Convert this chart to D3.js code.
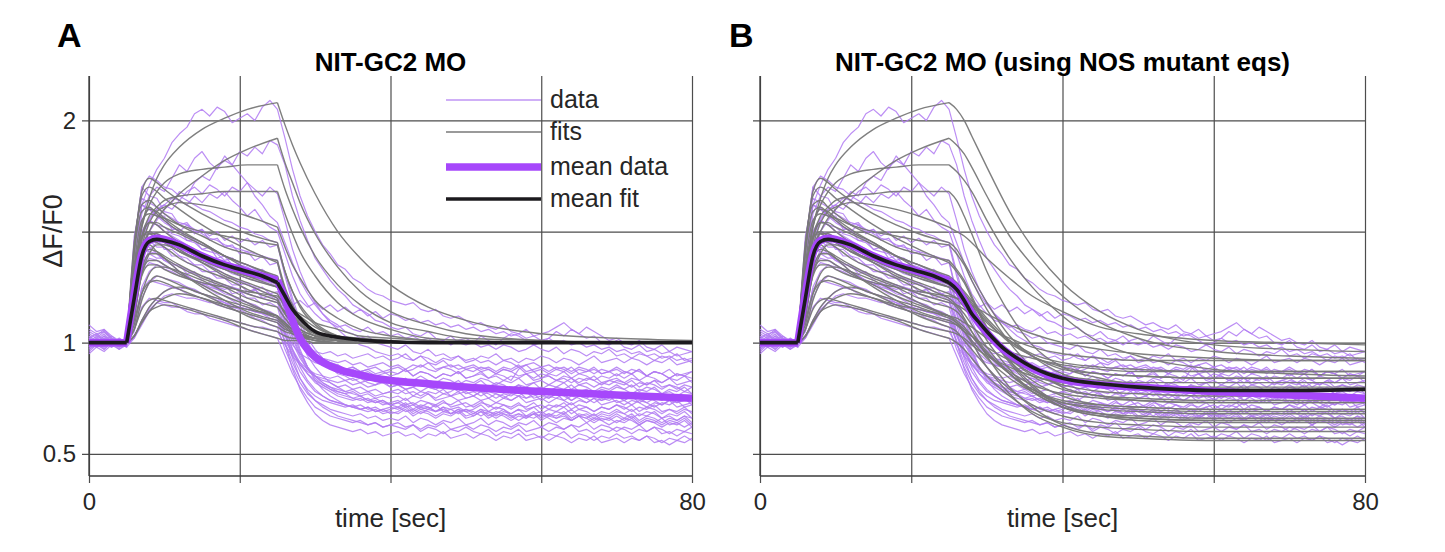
<!DOCTYPE html>
<html><head><meta charset="utf-8">
<script src="https://cdn.jsdelivr.net/npm/d3@7"></script>
<style>body{margin:0;background:#fff}</style>
</head><body><svg id="chart" width="1445" height="552"></svg>
<script>
// ---------------- DATA ----------------
const titles = ["NIT-GC2 MO", "NIT-GC2 MO (using NOS mutant eqs)"];
const panelLetters = ["A", "B"];
const xTickValues = [0, 20, 40, 60, 80];
const xTickLabels = ["0", "", "", "", "80"];
const yTickValues = [0.5, 1, 1.5, 2];
const yTickLabels = ["0.5", "1", "", "2"];
const legendLabels = ["data", "fits", "mean data", "mean fit"];

// individual recordings, sampled every 1 s (t = 0..80)
const dataTraces = [
[1.04,1.02,1.05,1.01,0.99,1.00,1.35,1.62,1.71,1.78,1.83,1.90,1.94,1.97,2.03,2.05,2.02,2.06,2.04,1.99,2.01,2.03,2.00,2.06,2.09,2.05,1.92,1.78,1.66,1.57,1.50,1.44,1.40,1.35,1.33,1.29,1.27,1.24,1.22,1.21,1.19,1.18,1.17,1.18,1.15,1.14,1.15,1.12,1.11,1.12,1.10,1.08,1.09,1.07,1.06,1.08,1.05,1.04,1.06,1.03,1.04,1.05,1.07,1.09,1.06,1.04,1.02,1.03,1.00,0.99,1.01,0.98,0.97,0.99,0.96,0.97,0.95,0.96,0.94,0.95,0.96],
[0.98,1.01,0.99,1.02,1.00,0.99,1.20,1.42,1.50,1.55,1.60,1.63,1.68,1.66,1.72,1.75,1.73,1.79,1.82,1.80,1.86,1.84,1.88,1.85,1.91,1.89,1.80,1.66,1.55,1.46,1.38,1.33,1.28,1.24,1.21,1.17,1.15,1.13,1.10,1.09,1.07,1.06,1.07,1.04,1.03,1.05,1.02,1.01,1.03,1.00,0.99,1.00,0.98,0.99,0.97,0.99,0.98,0.96,0.97,0.99,0.97,0.96,0.98,0.95,0.97,0.96,0.94,0.96,0.95,0.97,0.94,0.95,0.93,0.95,0.94,0.92,0.94,0.93,0.95,0.92,0.93],
[1.02,1.00,1.03,0.99,1.01,1.00,1.30,1.58,1.66,1.70,1.68,1.74,1.80,1.77,1.83,1.86,1.81,1.78,1.84,1.80,1.76,1.72,1.66,1.62,1.57,1.54,1.45,1.36,1.28,1.22,1.17,1.13,1.10,1.08,1.05,1.04,1.02,1.03,1.00,0.99,0.98,0.97,0.99,0.96,0.95,0.97,0.94,0.95,0.93,0.94,0.92,0.93,0.91,0.92,0.90,0.92,0.91,0.89,0.90,0.91,0.89,0.90,0.88,0.89,0.87,0.89,0.88,0.86,0.88,0.87,0.89,0.87,0.86,0.88,0.85,0.87,0.86,0.84,0.86,0.85,0.84],
[1.00,0.98,1.01,1.00,0.97,1.00,1.25,1.50,1.56,1.60,1.62,1.65,1.64,1.68,1.70,1.67,1.71,1.69,1.66,1.70,1.68,1.72,1.69,1.66,1.70,1.67,1.55,1.42,1.32,1.24,1.18,1.13,1.09,1.06,1.03,1.01,0.99,0.98,0.96,0.95,0.94,0.95,0.93,0.92,0.94,0.91,0.90,0.92,0.89,0.90,0.88,0.89,0.87,0.88,0.86,0.88,0.87,0.85,0.86,0.84,0.86,0.85,0.83,0.85,0.84,0.82,0.84,0.83,0.81,0.83,0.82,0.81,0.83,0.80,0.82,0.81,0.79,0.81,0.80,0.78,0.80],
[1.05,1.03,1.06,1.02,1.00,0.99,1.38,1.62,1.60,1.57,1.55,1.52,1.50,1.53,1.49,1.51,1.48,1.50,1.46,1.48,1.45,1.47,1.44,1.46,1.43,1.44,1.30,1.18,1.08,1.00,0.95,0.91,0.89,0.86,0.85,0.83,0.84,0.82,0.81,0.83,0.80,0.81,0.79,0.80,0.78,0.80,0.79,0.77,0.78,0.80,0.77,0.78,0.76,0.78,0.77,0.75,0.77,0.76,0.78,0.75,0.76,0.75,0.77,0.74,0.76,0.75,0.73,0.75,0.74,0.76,0.73,0.74,0.72,0.74,0.73,0.71,0.73,0.72,0.74,0.71,0.72],
[0.99,1.02,1.00,0.98,1.01,1.00,1.45,1.70,1.66,1.65,1.59,1.58,1.53,1.54,1.50,1.51,1.46,1.47,1.43,1.44,1.40,1.41,1.37,1.39,1.35,1.36,1.22,1.10,1.01,0.94,0.89,0.85,0.82,0.80,0.78,0.77,0.76,0.74,0.75,0.73,0.72,0.73,0.71,0.72,0.70,0.71,0.69,0.70,0.68,0.70,0.69,0.67,0.69,0.68,0.66,0.68,0.67,0.65,0.67,0.66,0.68,0.66,0.64,0.66,0.65,0.67,0.64,0.66,0.65,0.63,0.65,0.64,0.66,0.63,0.65,0.64,0.62,0.64,0.63,0.65,0.62],
[1.01,0.99,1.00,1.02,0.99,1.00,1.30,1.55,1.61,1.57,1.57,1.51,1.51,1.46,1.46,1.42,1.43,1.38,1.39,1.35,1.35,1.32,1.32,1.28,1.29,1.26,1.14,1.03,0.95,0.89,0.85,0.82,0.80,0.78,0.77,0.75,0.76,0.74,0.73,0.74,0.72,0.71,0.73,0.70,0.72,0.71,0.69,0.71,0.70,0.68,0.70,0.69,0.67,0.69,0.68,0.70,0.67,0.68,0.66,0.68,0.67,0.68,0.66,0.67,0.65,0.67,0.66,0.68,0.65,0.66,0.64,0.66,0.65,0.63,0.65,0.64,0.66,0.63,0.64,0.62,0.64],
[0.97,1.00,0.98,1.01,1.00,0.99,1.22,1.48,1.55,1.53,1.52,1.49,1.48,1.46,1.45,1.42,1.41,1.40,1.37,1.38,1.35,1.34,1.32,1.33,1.30,1.29,1.19,1.10,1.03,0.98,0.95,0.93,0.91,0.90,0.88,0.89,0.87,0.88,0.86,0.87,0.85,0.86,0.88,0.85,0.87,0.86,0.84,0.86,0.85,0.87,0.84,0.85,0.86,0.84,0.85,0.83,0.85,0.84,0.86,0.83,0.84,0.85,0.83,0.84,0.82,0.84,0.83,0.85,0.82,0.83,0.84,0.82,0.84,0.83,0.81,0.83,0.82,0.84,0.81,0.82,0.83],
[1.03,1.01,1.04,1.00,1.02,1.00,1.20,1.40,1.46,1.43,1.43,1.39,1.39,1.36,1.35,1.32,1.32,1.29,1.29,1.26,1.26,1.23,1.24,1.20,1.21,1.19,1.05,0.93,0.84,0.78,0.74,0.71,0.69,0.67,0.66,0.65,0.64,0.63,0.64,0.62,0.63,0.62,0.61,0.63,0.60,0.62,0.61,0.59,0.61,0.60,0.62,0.60,0.59,0.61,0.58,0.60,0.59,0.61,0.58,0.59,0.57,0.59,0.58,0.60,0.57,0.59,0.58,0.56,0.58,0.57,0.59,0.57,0.58,0.56,0.58,0.57,0.55,0.57,0.56,0.58,0.56],
[0.96,0.99,0.97,1.00,0.98,1.00,1.32,1.50,1.47,1.47,1.42,1.42,1.39,1.38,1.35,1.35,1.32,1.32,1.29,1.29,1.26,1.27,1.24,1.25,1.22,1.23,1.10,1.00,0.93,0.88,0.85,0.83,0.82,0.80,0.81,0.79,0.80,0.78,0.79,0.77,0.78,0.79,0.77,0.78,0.76,0.78,0.77,0.79,0.76,0.77,0.78,0.76,0.78,0.77,0.75,0.77,0.76,0.78,0.75,0.76,0.77,0.75,0.77,0.76,0.74,0.76,0.75,0.77,0.74,0.75,0.76,0.74,0.76,0.75,0.73,0.75,0.74,0.76,0.73,0.74,0.75],
[1.00,1.02,0.99,1.01,1.00,0.98,1.15,1.35,1.40,1.38,1.38,1.35,1.35,1.31,1.32,1.28,1.29,1.25,1.26,1.22,1.23,1.20,1.20,1.17,1.18,1.16,1.04,0.94,0.87,0.82,0.78,0.76,0.74,0.73,0.72,0.71,0.72,0.70,0.71,0.69,0.70,0.71,0.69,0.70,0.68,0.70,0.69,0.71,0.68,0.69,0.70,0.68,0.70,0.69,0.67,0.69,0.68,0.70,0.67,0.68,0.69,0.67,0.69,0.68,0.70,0.67,0.68,0.66,0.68,0.67,0.69,0.68,0.66,0.68,0.67,0.69,0.66,0.67,0.65,0.67,0.66],
[1.02,1.00,1.01,0.99,1.00,1.01,1.08,1.25,1.32,1.35,1.34,1.33,1.31,1.30,1.28,1.27,1.26,1.24,1.23,1.21,1.20,1.18,1.17,1.15,1.13,1.12,1.05,0.99,0.95,0.93,0.91,0.90,0.89,0.90,0.88,0.89,0.87,0.88,0.89,0.87,0.88,0.89,0.87,0.88,0.90,0.88,0.87,0.89,0.88,0.86,0.88,0.87,0.89,0.88,0.86,0.88,0.87,0.89,0.86,0.87,0.88,0.86,0.88,0.87,0.89,0.86,0.87,0.88,0.86,0.87,0.85,0.87,0.86,0.88,0.85,0.87,0.86,0.84,0.86,0.85,0.87],
[0.98,1.00,0.97,1.00,0.99,1.00,1.05,1.20,1.27,1.30,1.29,1.28,1.27,1.25,1.24,1.22,1.21,1.19,1.18,1.16,1.15,1.13,1.11,1.10,1.08,1.07,0.97,0.89,0.82,0.77,0.74,0.72,0.70,0.69,0.68,0.67,0.68,0.66,0.67,0.65,0.66,0.65,0.67,0.64,0.66,0.65,0.63,0.65,0.64,0.66,0.63,0.64,0.66,0.63,0.65,0.64,0.62,0.64,0.63,0.65,0.62,0.64,0.63,0.61,0.63,0.62,0.64,0.61,0.63,0.62,0.60,0.62,0.61,0.63,0.60,0.62,0.61,0.59,0.61,0.60,0.62],
[1.01,0.99,1.02,1.00,1.01,0.99,1.03,1.10,1.16,1.20,1.23,1.25,1.24,1.25,1.23,1.22,1.21,1.20,1.18,1.17,1.16,1.15,1.14,1.13,1.12,1.11,1.03,0.96,0.90,0.86,0.83,0.81,0.79,0.78,0.77,0.78,0.76,0.77,0.75,0.76,0.75,0.76,0.74,0.76,0.75,0.77,0.74,0.75,0.76,0.74,0.75,0.76,0.74,0.75,0.73,0.75,0.74,0.76,0.73,0.74,0.75,0.73,0.75,0.74,0.72,0.74,0.73,0.75,0.72,0.73,0.74,0.72,0.74,0.73,0.71,0.73,0.72,0.74,0.71,0.72,0.73],
[1.00,0.98,1.00,1.01,0.99,1.00,1.06,1.16,1.20,1.19,1.18,1.18,1.16,1.15,1.15,1.13,1.12,1.12,1.10,1.10,1.09,1.08,1.07,1.07,1.06,1.05,0.99,0.94,0.90,0.87,0.85,0.84,0.83,0.82,0.83,0.81,0.82,0.80,0.81,0.82,0.80,0.81,0.79,0.80,0.82,0.80,0.79,0.81,0.80,0.78,0.80,0.81,0.79,0.80,0.78,0.80,0.79,0.81,0.78,0.79,0.80,0.78,0.80,0.79,0.81,0.78,0.79,0.77,0.79,0.78,0.80,0.79,0.77,0.79,0.78,0.80,0.77,0.78,0.76,0.78,0.77],
[1.08,1.05,1.06,1.03,1.01,1.00,1.25,1.42,1.41,1.40,1.37,1.36,1.34,1.33,1.31,1.30,1.29,1.27,1.26,1.25,1.24,1.22,1.21,1.20,1.19,1.18,1.10,1.04,1.00,0.98,0.96,0.95,0.96,0.94,0.95,0.93,0.94,0.95,0.93,0.94,0.92,0.93,0.95,0.92,0.94,0.93,0.91,0.93,0.92,0.94,0.91,0.92,0.94,0.93,0.95,0.92,0.93,0.91,0.93,0.92,0.94,0.93,0.91,0.93,0.92,0.90,0.92,0.94,0.91,0.92,0.93,0.91,0.93,0.92,0.90,0.92,0.91,0.93,0.90,0.91,0.92],
[0.99,1.01,1.00,0.98,1.00,0.99,1.18,1.44,1.50,1.49,1.47,1.44,1.42,1.40,1.38,1.36,1.35,1.33,1.31,1.29,1.28,1.26,1.25,1.23,1.22,1.20,1.08,0.97,0.89,0.83,0.79,0.76,0.74,0.73,0.72,0.71,0.70,0.71,0.69,0.70,0.68,0.69,0.71,0.68,0.70,0.69,0.67,0.69,0.68,0.70,0.67,0.68,0.70,0.67,0.69,0.68,0.66,0.68,0.67,0.69,0.66,0.68,0.67,0.69,0.66,0.68,0.67,0.65,0.67,0.66,0.68,0.66,0.68,0.65,0.67,0.66,0.64,0.66,0.65,0.67,0.64],
[1.02,1.04,1.01,1.03,1.00,1.01,1.42,1.62,1.60,1.57,1.54,1.52,1.50,1.48,1.46,1.44,1.43,1.41,1.39,1.38,1.36,1.35,1.33,1.32,1.31,1.30,1.17,1.05,0.96,0.89,0.84,0.81,0.79,0.77,0.76,0.75,0.74,0.75,0.73,0.74,0.72,0.73,0.75,0.72,0.74,0.73,0.71,0.73,0.72,0.74,0.71,0.72,0.74,0.71,0.73,0.72,0.70,0.72,0.71,0.73,0.70,0.72,0.71,0.73,0.70,0.72,0.71,0.69,0.71,0.70,0.72,0.70,0.72,0.69,0.71,0.70,0.68,0.70,0.69,0.71,0.68],
[0.95,0.98,0.96,0.99,0.97,0.99,1.12,1.33,1.38,1.37,1.35,1.33,1.32,1.30,1.28,1.27,1.25,1.24,1.22,1.21,1.19,1.18,1.16,1.15,1.14,1.12,1.00,0.88,0.79,0.73,0.68,0.65,0.63,0.62,0.61,0.60,0.61,0.59,0.60,0.58,0.59,0.60,0.58,0.59,0.57,0.59,0.58,0.60,0.57,0.58,0.59,0.57,0.59,0.58,0.56,0.58,0.57,0.59,0.56,0.57,0.58,0.56,0.58,0.57,0.55,0.57,0.56,0.58,0.55,0.56,0.57,0.55,0.57,0.56,0.58,0.55,0.56,0.54,0.56,0.55,0.57],
[1.01,1.00,1.02,0.99,1.01,1.00,1.10,1.24,1.28,1.27,1.26,1.25,1.24,1.22,1.21,1.20,1.19,1.17,1.16,1.15,1.14,1.13,1.12,1.11,1.10,1.09,1.01,0.95,0.91,0.88,0.86,0.85,0.84,0.85,0.83,0.84,0.82,0.83,0.84,0.82,0.83,0.84,0.82,0.83,0.85,0.83,0.82,0.84,0.83,0.81,0.83,0.82,0.84,0.83,0.81,0.83,0.82,0.84,0.81,0.82,0.83,0.81,0.83,0.82,0.84,0.81,0.82,0.80,0.82,0.81,0.83,0.82,0.80,0.82,0.81,0.83,0.80,0.81,0.79,0.81,0.80],
[1.00,1.03,1.01,1.00,0.99,1.00,1.45,1.70,1.75,1.73,1.70,1.69,1.66,1.64,1.62,1.60,1.59,1.57,1.55,1.54,1.52,1.51,1.49,1.48,1.46,1.45,1.32,1.20,1.10,1.02,0.97,0.93,0.90,0.88,0.86,0.85,0.84,0.83,0.84,0.82,0.83,0.82,0.84,0.81,0.83,0.82,0.80,0.82,0.81,0.83,0.80,0.81,0.83,0.80,0.82,0.81,0.79,0.81,0.80,0.82,0.79,0.81,0.80,0.82,0.79,0.81,0.80,0.78,0.80,0.79,0.81,0.79,0.81,0.78,0.80,0.79,0.77,0.79,0.78,0.80,0.77],
[1.00,0.99,1.01,1.00,1.02,1.00,1.20,1.45,1.55,1.60,1.62,1.60,1.64,1.62,1.66,1.63,1.67,1.65,1.68,1.64,1.61,1.57,1.60,1.55,1.52,1.50,1.40,1.30,1.22,1.17,1.13,1.10,1.09,1.07,1.08,1.06,1.05,1.07,1.04,1.05,1.03,1.04,1.02,1.03,1.01,1.02,1.00,1.01,0.99,1.01,1.02,1.00,1.03,1.01,0.99,1.02,1.04,1.03,1.01,0.99,1.00,1.02,1.05,1.03,1.06,1.04,1.07,1.05,1.03,1.01,1.02,1.00,0.99,1.01,0.98,0.97,0.99,0.96,0.98,0.97,0.96],
[0.97,0.99,0.98,1.00,0.99,1.00,1.28,1.45,1.43,1.40,1.37,1.35,1.32,1.30,1.28,1.26,1.24,1.22,1.21,1.19,1.17,1.16,1.14,1.13,1.11,1.10,1.00,0.91,0.84,0.79,0.76,0.74,0.73,0.72,0.71,0.72,0.70,0.71,0.69,0.70,0.71,0.70,0.72,0.69,0.71,0.70,0.72,0.69,0.70,0.71,0.69,0.70,0.72,0.69,0.71,0.70,0.68,0.70,0.69,0.71,0.68,0.70,0.69,0.71,0.68,0.70,0.69,0.67,0.69,0.68,0.70,0.68,0.70,0.67,0.69,0.68,0.66,0.68,0.67,0.69,0.66],
[1.00,1.01,0.99,1.00,0.98,1.00,1.02,1.10,1.15,1.18,1.17,1.16,1.16,1.14,1.13,1.13,1.11,1.10,1.09,1.08,1.07,1.06,1.05,1.04,1.03,1.02,0.94,0.86,0.80,0.75,0.71,0.69,0.67,0.66,0.65,0.64,0.65,0.63,0.64,0.62,0.63,0.64,0.62,0.63,0.61,0.63,0.62,0.64,0.61,0.62,0.63,0.61,0.63,0.62,0.60,0.62,0.61,0.63,0.60,0.61,0.62,0.60,0.62,0.61,0.63,0.60,0.61,0.59,0.61,0.60,0.62,0.61,0.59,0.61,0.60,0.62,0.59,0.60,0.58,0.60,0.59],
[1.03,1.00,1.02,1.01,0.99,1.00,1.25,1.50,1.55,1.53,1.50,1.48,1.46,1.44,1.42,1.40,1.39,1.37,1.35,1.34,1.32,1.31,1.29,1.28,1.27,1.25,1.13,1.02,0.94,0.88,0.85,0.82,0.80,0.79,0.78,0.79,0.77,0.78,0.76,0.77,0.78,0.77,0.79,0.76,0.78,0.77,0.75,0.77,0.76,0.78,0.75,0.76,0.78,0.75,0.77,0.76,0.74,0.76,0.75,0.77,0.74,0.76,0.75,0.77,0.74,0.76,0.75,0.73,0.75,0.74,0.76,0.74,0.76,0.73,0.75,0.74,0.72,0.74,0.73,0.75,0.72],
[1.02,1.00,1.03,1.01,1.00,1.00,1.15,1.32,1.36,1.35,1.33,1.32,1.30,1.29,1.28,1.26,1.27,1.25,1.24,1.25,1.23,1.22,1.24,1.21,1.22,1.20,1.18,1.17,1.19,1.16,1.18,1.15,1.17,1.14,1.16,1.13,1.15,1.12,1.14,1.11,1.13,1.12,1.10,1.11,1.09,1.10,1.08,1.09,1.07,1.08,1.06,1.07,1.05,1.06,1.04,1.05,1.03,1.04,1.02,1.03,1.01,1.02,1.00,1.01,0.99,1.00,0.98,0.99,0.97,0.98,0.96,0.97,0.95,0.96,0.94,0.95,0.93,0.94,0.92,0.93,0.91],
[0.99,1.01,1.00,1.02,1.00,0.99,1.12,1.33,1.42,1.45,1.44,1.43,1.41,1.40,1.38,1.37,1.36,1.34,1.33,1.31,1.30,1.29,1.28,1.27,1.26,1.25,1.15,1.07,1.01,0.97,0.95,0.93,0.92,0.91,0.92,0.90,0.91,0.89,0.90,0.91,0.89,0.90,0.88,0.90,0.89,0.91,0.88,0.89,0.90,0.88,0.89,0.90,0.88,0.89,0.87,0.89,0.88,0.90,0.87,0.88,0.89,0.87,0.89,0.88,0.86,0.88,0.87,0.89,0.86,0.87,0.88,0.86,0.88,0.87,0.85,0.87,0.86,0.88,0.85,0.86,0.87],
[1.06,1.04,1.05,1.02,1.01,1.00,1.48,1.65,1.63,1.61,1.58,1.56,1.54,1.53,1.51,1.49,1.47,1.46,1.44,1.43,1.42,1.41,1.40,1.39,1.38,1.37,1.22,1.08,0.97,0.89,0.83,0.79,0.76,0.74,0.72,0.71,0.70,0.69,0.70,0.68,0.69,0.68,0.70,0.67,0.69,0.68,0.66,0.68,0.67,0.69,0.66,0.67,0.69,0.66,0.68,0.67,0.65,0.67,0.66,0.68,0.65,0.67,0.66,0.68,0.65,0.67,0.66,0.64,0.66,0.65,0.67,0.65,0.67,0.64,0.66,0.65,0.63,0.65,0.64,0.66,0.63],
[0.98,1.00,0.99,1.01,1.00,0.98,1.02,1.08,1.14,1.18,1.21,1.22,1.21,1.20,1.20,1.19,1.18,1.18,1.17,1.16,1.16,1.15,1.14,1.14,1.13,1.12,1.04,0.97,0.91,0.86,0.82,0.80,0.78,0.76,0.75,0.74,0.75,0.73,0.74,0.72,0.73,0.74,0.72,0.73,0.71,0.73,0.72,0.74,0.71,0.72,0.73,0.71,0.73,0.72,0.70,0.72,0.71,0.73,0.70,0.71,0.72,0.70,0.72,0.71,0.73,0.70,0.71,0.69,0.71,0.70,0.72,0.71,0.69,0.71,0.70,0.72,0.69,0.70,0.68,0.70,0.69],
[1.01,0.98,1.00,0.99,1.01,1.00,1.35,1.50,1.49,1.47,1.46,1.44,1.43,1.41,1.40,1.39,1.38,1.36,1.35,1.34,1.33,1.32,1.31,1.30,1.29,1.28,1.17,1.07,1.00,0.95,0.92,0.90,0.89,0.88,0.87,0.88,0.86,0.87,0.85,0.86,0.87,0.86,0.88,0.85,0.87,0.86,0.84,0.86,0.85,0.87,0.84,0.85,0.87,0.84,0.86,0.85,0.83,0.88,0.90,0.87,0.84,0.86,0.85,0.87,0.84,0.86,0.85,0.83,0.85,0.84,0.86,0.84,0.86,0.83,0.85,0.84,0.82,0.84,0.83,0.85,0.82]
];

// model fits: shared stimulus-on phase, then panel-specific off phase
const fitRiseTimes = [0, 5, 6, 7, 8, 9, 10, 12, 15, 18, 21, 25];
const fitRise = [
[1,1,1.30,1.52,1.65,1.74,1.80,1.88,1.96,2.01,2.05,2.08],
[1,1,1.22,1.40,1.50,1.56,1.60,1.67,1.75,1.82,1.87,1.92],
[1,1,1.30,1.52,1.62,1.68,1.72,1.76,1.78,1.79,1.80,1.80],
[1,1,1.28,1.48,1.57,1.61,1.64,1.66,1.67,1.68,1.68,1.68],
[1,1,1.35,1.55,1.58,1.57,1.56,1.53,1.50,1.48,1.46,1.44],
[1,1,1.42,1.66,1.70,1.68,1.65,1.60,1.53,1.47,1.42,1.36],
[1,1,1.30,1.53,1.60,1.59,1.56,1.51,1.45,1.39,1.33,1.26],
[1,1,1.25,1.46,1.54,1.54,1.52,1.49,1.44,1.39,1.35,1.29],
[1,1,1.20,1.39,1.46,1.45,1.43,1.38,1.33,1.29,1.24,1.19],
[1,1,1.30,1.47,1.50,1.48,1.46,1.41,1.36,1.31,1.27,1.22],
[1,1,1.15,1.33,1.40,1.40,1.38,1.34,1.29,1.25,1.20,1.16],
[1,1,1.08,1.22,1.31,1.34,1.34,1.32,1.28,1.23,1.18,1.12],
[1,1,1.06,1.19,1.27,1.30,1.29,1.26,1.22,1.17,1.12,1.07],
[1,1,1.03,1.10,1.16,1.20,1.23,1.25,1.22,1.19,1.16,1.11],
[1,1,1.06,1.15,1.19,1.20,1.19,1.17,1.14,1.11,1.08,1.05],
[1,1,1.22,1.38,1.42,1.41,1.39,1.35,1.30,1.26,1.22,1.18],
[1,1,1.18,1.41,1.49,1.49,1.47,1.42,1.36,1.30,1.26,1.20],
[1,1,1.40,1.59,1.61,1.58,1.55,1.50,1.45,1.39,1.35,1.30],
[1,1,1.12,1.31,1.37,1.37,1.35,1.31,1.26,1.21,1.17,1.12],
[1,1,1.10,1.22,1.27,1.28,1.27,1.24,1.20,1.16,1.13,1.09],
[1,1,1.42,1.68,1.74,1.72,1.69,1.64,1.58,1.53,1.49,1.45],
[1,1,1.20,1.43,1.54,1.59,1.61,1.63,1.62,1.60,1.57,1.52],
[1,1,1.28,1.43,1.44,1.41,1.38,1.32,1.25,1.19,1.14,1.10],
[1,1,1.03,1.09,1.14,1.16,1.17,1.16,1.13,1.10,1.06,1.02],
[1,1,1.24,1.47,1.54,1.53,1.50,1.45,1.39,1.34,1.30,1.25],
[1,1,1.15,1.30,1.35,1.35,1.33,1.30,1.27,1.25,1.23,1.21],
[1,1,1.12,1.31,1.40,1.44,1.44,1.41,1.37,1.33,1.29,1.25],
[1,1,1.45,1.62,1.64,1.61,1.58,1.53,1.48,1.43,1.40,1.37],
[1,1,1.03,1.09,1.14,1.18,1.20,1.22,1.20,1.17,1.15,1.12],
[1,1,1.33,1.48,1.49,1.47,1.45,1.41,1.37,1.33,1.30,1.28]
];
const fitDecayTimes = [26, 27, 28, 30, 33, 36, 40, 45, 50, 60, 70, 80];
const fitDecayA = [
[1.98,1.89,1.81,1.67,1.50,1.38,1.26,1.16,1.10,1.04,1.02,1.01],
[1.81,1.72,1.63,1.49,1.34,1.23,1.14,1.08,1.04,1.01,1.00,1.00],
[1.69,1.60,1.52,1.39,1.26,1.17,1.09,1.05,1.02,1.01,1.00,1.00],
[1.58,1.49,1.41,1.30,1.18,1.11,1.06,1.02,1.01,1.00,1.00,1.00],
[1.32,1.23,1.16,1.08,1.03,1.01,1.00,1.00,1.00,1.00,1.00,1.00],
[1.24,1.16,1.11,1.05,1.01,1.00,1.00,1.00,1.00,1.00,1.00,1.00],
[1.17,1.12,1.08,1.04,1.01,1.00,1.00,1.00,1.00,1.00,1.00,1.00],
[1.21,1.15,1.11,1.05,1.02,1.01,1.00,1.00,1.00,1.00,1.00,1.00],
[1.13,1.09,1.06,1.03,1.01,1.00,1.00,1.00,1.00,1.00,1.00,1.00],
[1.16,1.11,1.08,1.04,1.02,1.01,1.00,1.00,1.00,1.00,1.00,1.00],
[1.11,1.07,1.05,1.02,1.01,1.00,1.00,1.00,1.00,1.00,1.00,1.00],
[1.09,1.06,1.04,1.02,1.01,1.00,1.00,1.00,1.00,1.00,1.00,1.00],
[1.05,1.04,1.03,1.01,1.00,1.00,1.00,1.00,1.00,1.00,1.00,1.00],
[1.08,1.06,1.04,1.02,1.01,1.00,1.00,1.00,1.00,1.00,1.00,1.00],
[1.03,1.02,1.02,1.01,1.00,1.00,1.00,1.00,1.00,1.00,1.00,1.00],
[1.14,1.11,1.08,1.05,1.02,1.01,1.00,1.00,1.00,1.00,1.00,1.00],
[1.13,1.09,1.06,1.03,1.01,1.00,1.00,1.00,1.00,1.00,1.00,1.00],
[1.20,1.13,1.09,1.04,1.01,1.00,1.00,1.00,1.00,1.00,1.00,1.00],
[1.08,1.05,1.04,1.02,1.00,1.00,1.00,1.00,1.00,1.00,1.00,1.00],
[1.06,1.05,1.03,1.02,1.01,1.00,1.00,1.00,1.00,1.00,1.00,1.00],
[1.32,1.23,1.17,1.09,1.03,1.01,1.00,1.00,1.00,1.00,1.00,1.00],
[1.43,1.35,1.29,1.19,1.11,1.06,1.03,1.01,1.00,1.00,1.00,1.00],
[1.07,1.04,1.03,1.01,1.00,1.00,1.00,1.00,1.00,1.00,1.00,1.00],
[1.01,1.01,1.01,1.00,1.00,1.00,1.00,1.00,1.00,1.00,1.00,1.00],
[1.17,1.11,1.08,1.03,1.01,1.00,1.00,1.00,1.00,1.00,1.00,1.00],
[1.18,1.15,1.13,1.09,1.06,1.03,1.02,1.01,1.00,1.00,1.00,1.00],
[1.19,1.15,1.12,1.07,1.03,1.02,1.01,1.00,1.00,1.00,1.00,1.00],
[1.25,1.17,1.11,1.05,1.02,1.00,1.00,1.00,1.00,1.00,1.00,1.00],
[1.09,1.06,1.04,1.02,1.01,1.00,1.00,1.00,1.00,1.00,1.00,1.00],
[1.20,1.14,1.10,1.05,1.02,1.01,1.00,1.00,1.00,1.00,1.00,1.00]
];
const fitDecayB = [
[2.05,2.00,1.93,1.79,1.59,1.43,1.27,1.14,1.06,0.99,0.97,0.96],
[1.89,1.85,1.79,1.66,1.48,1.35,1.21,1.09,1.02,0.96,0.94,0.93],
[1.77,1.73,1.68,1.55,1.38,1.25,1.12,1.00,0.94,0.88,0.86,0.85],
[1.64,1.57,1.49,1.32,1.13,0.99,0.89,0.84,0.81,0.80,0.80,0.80],
[1.40,1.35,1.28,1.15,1.00,0.89,0.80,0.76,0.74,0.73,0.73,0.73],
[1.32,1.27,1.20,1.06,0.91,0.80,0.71,0.67,0.65,0.64,0.64,0.64],
[1.23,1.18,1.13,1.01,0.88,0.78,0.71,0.67,0.66,0.65,0.65,0.65],
[1.27,1.23,1.19,1.11,1.01,0.94,0.89,0.86,0.85,0.84,0.84,0.84],
[1.16,1.11,1.05,0.94,0.80,0.71,0.63,0.59,0.58,0.57,0.57,0.57],
[1.20,1.16,1.12,1.03,0.93,0.86,0.81,0.78,0.77,0.76,0.76,0.76],
[1.14,1.10,1.05,0.96,0.86,0.79,0.73,0.70,0.69,0.68,0.68,0.68],
[1.11,1.09,1.07,1.02,0.96,0.93,0.90,0.88,0.87,0.87,0.87,0.87],
[1.05,1.01,0.97,0.89,0.79,0.72,0.67,0.64,0.63,0.62,0.62,0.62],
[1.09,1.06,1.03,0.95,0.87,0.81,0.77,0.75,0.74,0.73,0.73,0.73],
[1.04,1.02,0.99,0.94,0.89,0.85,0.82,0.80,0.79,0.79,0.79,0.79],
[1.17,1.15,1.12,1.07,1.02,0.98,0.95,0.93,0.92,0.92,0.92,0.92],
[1.17,1.13,1.08,0.98,0.86,0.78,0.71,0.68,0.67,0.66,0.66,0.66],
[1.27,1.22,1.17,1.05,0.92,0.83,0.76,0.72,0.71,0.70,0.70,0.70],
[1.09,1.05,1.00,0.89,0.77,0.68,0.62,0.58,0.57,0.56,0.56,0.56],
[1.08,1.05,1.03,0.98,0.92,0.88,0.85,0.83,0.82,0.82,0.82,0.82],
[1.42,1.36,1.30,1.18,1.03,0.94,0.86,0.82,0.80,0.79,0.79,0.79],
[1.50,1.48,1.45,1.38,1.29,1.21,1.14,1.07,1.04,1.01,1.00,0.99],
[1.08,1.05,1.01,0.93,0.84,0.78,0.73,0.71,0.70,0.69,0.69,0.69],
[1.00,0.97,0.93,0.85,0.76,0.69,0.64,0.62,0.61,0.60,0.60,0.60],
[1.22,1.18,1.14,1.04,0.93,0.85,0.79,0.76,0.75,0.74,0.74,0.74],
[1.20,1.19,1.17,1.13,1.08,1.04,1.00,0.97,0.95,0.93,0.92,0.92],
[1.23,1.20,1.17,1.09,1.01,0.95,0.91,0.89,0.88,0.87,0.87,0.87],
[1.33,1.28,1.21,1.07,0.92,0.81,0.72,0.68,0.66,0.65,0.65,0.65],
[1.10,1.07,1.03,0.95,0.86,0.79,0.74,0.72,0.71,0.70,0.70,0.70],
[1.26,1.22,1.18,1.10,1.00,0.94,0.88,0.86,0.85,0.84,0.84,0.84]
];

// averages
const meanTimes = [0,5,6,7,8,9,10,12,15,18,20,23,25,26,27,28,29,30,32,34,36,38,40,45,50,60,70,80];
const meanDataA = [1,1,1.22,1.40,1.46,1.47,1.465,1.44,1.39,1.35,1.33,1.30,1.28,1.20,1.10,1.02,0.97,0.935,0.895,0.87,0.855,0.84,0.83,0.815,0.80,0.78,0.765,0.75];
const meanFitA  = [1,1,1.20,1.39,1.455,1.465,1.46,1.44,1.39,1.35,1.33,1.30,1.27,1.21,1.15,1.11,1.075,1.05,1.03,1.02,1.012,1.007,1.004,1.0,1.0,1.0,1.0,1.0];
const meanDataB = [1,1,1.22,1.40,1.46,1.47,1.465,1.44,1.39,1.35,1.33,1.30,1.28,1.245,1.19,1.135,1.085,1.045,0.975,0.925,0.885,0.855,0.835,0.81,0.80,0.78,0.765,0.75];
const meanFitB  = [1,1,1.20,1.39,1.455,1.465,1.46,1.44,1.39,1.35,1.33,1.30,1.27,1.24,1.19,1.13,1.09,1.05,0.98,0.93,0.89,0.86,0.84,0.815,0.80,0.785,0.785,0.79];

// ---------------- DRAWING ----------------
const W = 1445, H = 552;
const FONT = "'Liberation Sans', Arial, Helvetica, sans-serif";
const GRID = "#4d4d4d";
const TXT = "#262626";
const STYLE = {
  data:     {stroke: "#b07af2", width: 1.2, opacity: 0.85},
  fits:     {stroke: "#787878", width: 1.4, opacity: 0.95},
  meanData: {stroke: "#a647fb", width: 7.5, opacity: 1},
  meanFit:  {stroke: "#1c1a1e", width: 3.6, opacity: 1}
};
const svg = d3.select("#chart");
svg.append("rect").attr("width", W).attr("height", H).attr("fill", "#fff");

const yTop = 76, yBot = 476;
const panels = [
  {x0: 89, x1: 692, letterX: 57, fitDecay: fitDecayA, meanData: meanDataA, meanFit: meanFitA, yLabels: true, legend: true},
  {x0: 760, x1: 1365, letterX: 729, fitDecay: fitDecayB, meanData: meanDataB, meanFit: meanFitB, yLabels: false, legend: false}
];

// split a series at the stimulus on (t=5) / off (t=25) corners so they stay sharp
function segPath(times, vals, x, y, breaks) {
  const pts = times.map((t, i) => [t, vals[i]]);
  const gen = d3.line().x(d => x(d[0])).y(d => y(d[1])).curve(d3.curveMonotoneX);
  let out = "", start = 0;
  const idx = breaks.map(b => times.indexOf(b)).filter(i => i > 0).sort((a, b) => a - b);
  idx.concat([pts.length - 1]).forEach(e => {
    const seg = pts.slice(start, e + 1);
    if (seg.length > 1) out += gen(seg);
    start = e;
  });
  return out;
}

panels.forEach((p, pi) => {
  const x = d3.scaleLinear().domain([0, 80]).range([p.x0, p.x1]);
  const y = d3.scaleLinear().domain([0.4, 2.2]).range([yBot, yTop]);
  const g = svg.append("g");

  // horizontal grid + y ticks (drawn from the right edge, extending past the axis)
  const yAx = d3.axisLeft(y).tickValues(yTickValues).tickSizeInner(p.x1 - p.x0 + 7).tickSizeOuter(0)
    .tickPadding(6).tickFormat((d, i) => p.yLabels ? yTickLabels[i] : "");
  g.append("g").attr("transform", `translate(${p.x1},0)`).call(yAx).call(s => {
    s.select(".domain").remove();
    s.selectAll("line").attr("stroke", GRID).attr("stroke-width", 1.2);
    s.selectAll("text").attr("font-size", 24).attr("font-family", FONT).attr("fill", TXT);
  });
  // vertical grid + x ticks
  const xAx = d3.axisBottom(x).tickValues(xTickValues).tickSizeInner(yBot - yTop + 7).tickSizeOuter(0)
    .tickPadding(10).tickFormat((d, i) => xTickLabels[i]);
  g.append("g").attr("transform", `translate(0,${yTop})`).call(xAx).call(s => {
    s.select(".domain").remove();
    s.selectAll("line").attr("stroke", GRID).attr("stroke-width", 1.2);
    s.selectAll("text").attr("font-size", 24).attr("font-family", FONT).attr("fill", TXT);
  });
  // axis lines
  g.append("line").attr("x1", x(0)).attr("x2", x(0)).attr("y1", yTop).attr("y2", yBot)
    .attr("stroke", "#3a3a3a").attr("stroke-width", 1.3);
  g.append("line").attr("x1", x(0)).attr("x2", x(80)).attr("y1", yBot).attr("y2", yBot)
    .attr("stroke", "#3a3a3a").attr("stroke-width", 1.3);

  // data traces
  const tData = d3.range(0, 81);
  const dLine = d3.line().x((d, i) => x(tData[i])).y(d => y(d));
  g.append("g").selectAll("path").data(dataTraces).join("path")
    .attr("d", dLine).attr("fill", "none")
    .attr("stroke", STYLE.data.stroke).attr("stroke-width", STYLE.data.width)
    .attr("stroke-opacity", STYLE.data.opacity).attr("stroke-linejoin", "round");

  // fits
  const fTimes = fitRiseTimes.concat(fitDecayTimes);
  g.append("g").selectAll("path").data(fitRise.map((r, i) => r.concat(p.fitDecay[i]))).join("path")
    .attr("d", v => segPath(fTimes, v, x, y, [5, 25])).attr("fill", "none")
    .attr("stroke", STYLE.fits.stroke).attr("stroke-width", STYLE.fits.width)
    .attr("stroke-opacity", STYLE.fits.opacity);

  // means
  g.append("path").attr("d", segPath(meanTimes, p.meanData, x, y, [5, 25])).attr("fill", "none")
    .attr("stroke", STYLE.meanData.stroke).attr("stroke-width", STYLE.meanData.width)
    .attr("stroke-linejoin", "round");
  g.append("path").attr("d", segPath(meanTimes, p.meanFit, x, y, [5, 25])).attr("fill", "none")
    .attr("stroke", STYLE.meanFit.stroke).attr("stroke-width", STYLE.meanFit.width)
    .attr("stroke-linejoin", "round");

  // title and panel letter
  svg.append("text").attr("x", (p.x0 + p.x1) / 2).attr("y", 71).attr("text-anchor", "middle")
    .attr("font-family", FONT).attr("font-weight", "bold").attr("font-size", 26).attr("fill", "#000")
    .text(titles[pi]);
  svg.append("text").attr("x", p.letterX).attr("y", 47)
    .attr("font-family", FONT).attr("font-weight", "bold").attr("font-size", 34).attr("fill", "#000")
    .text(panelLetters[pi]);
  // x label
  svg.append("text").attr("x", (p.x0 + p.x1) / 2).attr("y", 527).attr("text-anchor", "middle")
    .attr("font-family", FONT).attr("font-size", 26).attr("fill", TXT).text("time [sec]");
  if (p.yLabels) {
    svg.append("text").attr("transform", `translate(62,231) rotate(-90)`).attr("text-anchor", "middle")
      .attr("font-family", FONT).attr("font-size", 27).attr("fill", TXT).text("\u0394F/F0");
  }

  if (p.legend) {
    const styles = [STYLE.data, STYLE.fits, STYLE.meanData, STYLE.meanFit];
    const ly = [100, 132, 167, 199];
    const lg = svg.append("g");
    legendLabels.forEach((lab, i) => {
      lg.append("line").attr("x1", 446).attr("x2", 541).attr("y1", ly[i]).attr("y2", ly[i])
        .attr("stroke", styles[i].stroke).attr("stroke-width", i >= 2 ? styles[i].width : 1.6)
        .attr("stroke-opacity", i === 0 ? 0.8 : 1);
      lg.append("text").attr("x", 550).attr("y", ly[i]).attr("dy", "0.33em")
        .attr("font-family", FONT).attr("font-size", 25).attr("fill", TXT).text(lab);
    });
  }
});
</script>
</body></html>
